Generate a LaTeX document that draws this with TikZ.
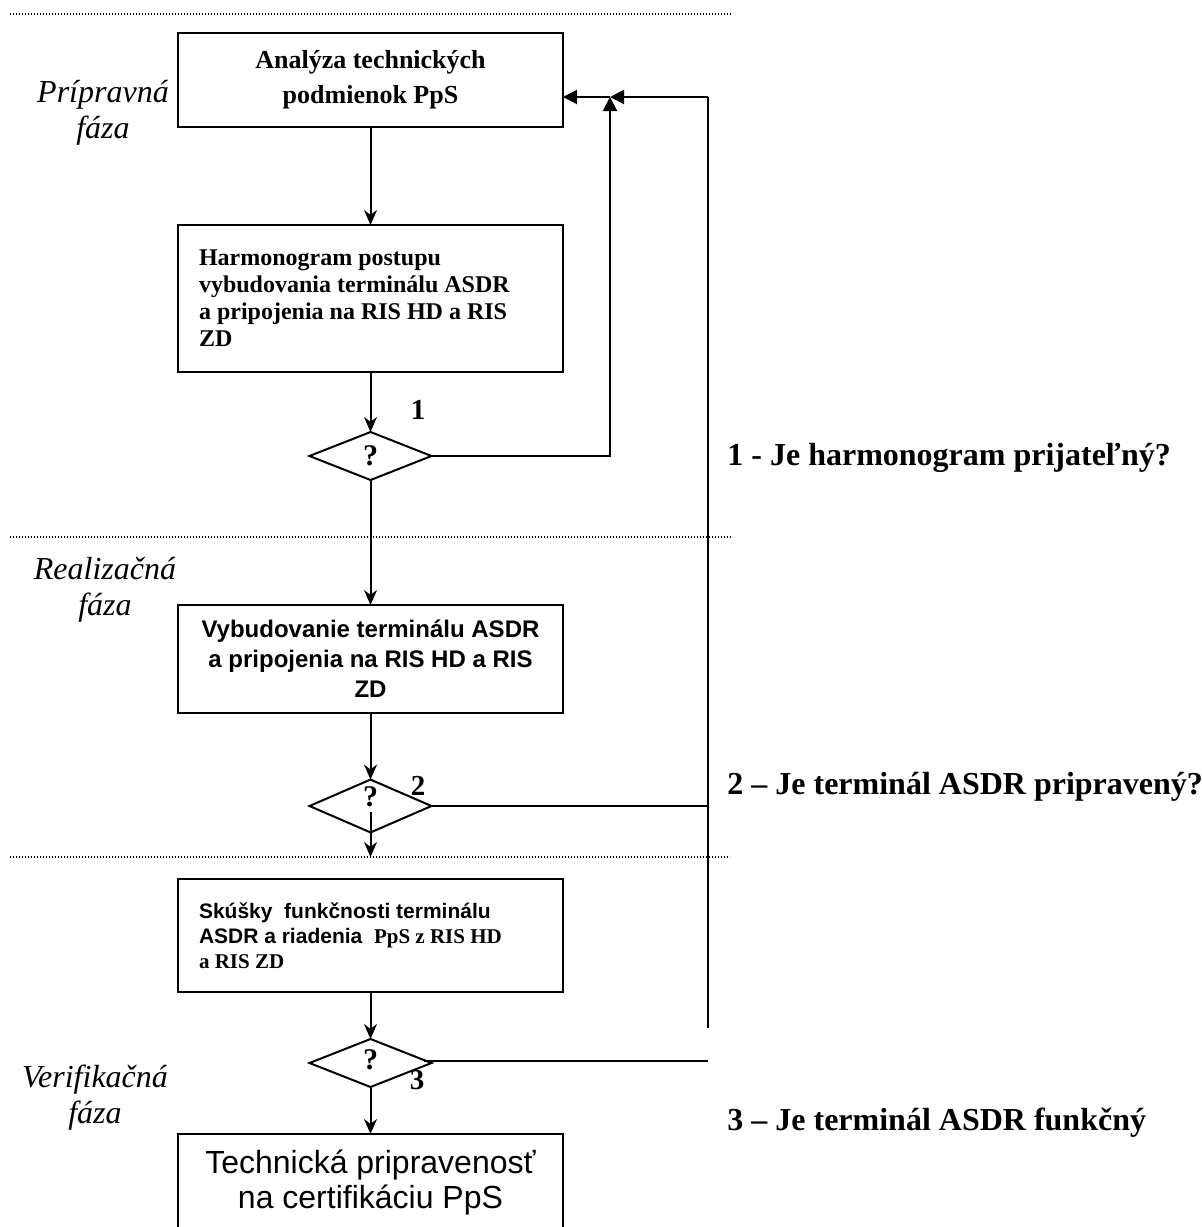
\documentclass[tikz,border=0pt]{standalone}
\usepackage{fontspec}
\setmainfont{Liberation Serif}
\setsansfont{Liberation Sans}
\usetikzlibrary{arrows.meta,shapes.geometric}

\begin{document}
\begin{tikzpicture}[x=0.5pt, y=-0.5pt,
    box/.style={draw, line width=1pt, minimum width=192.5pt, anchor=north west, inner sep=0pt, outer sep=0pt},
    quest/.style={draw, diamond, line width=1pt, minimum width=61pt, minimum height=24pt, inner sep=0pt, outer sep=0pt, font=\fontsize{15}{15}\selectfont\bfseries},
    flow/.style={line width=1pt, -{Stealth[length=7.5pt, width=6.5pt]}},
    fb/.style={line width=1pt, -{Triangle[length=7pt, width=7pt]}},
    link/.style={line width=1pt},
    sep/.style={line width=0.6pt, dash pattern=on 0.6pt off 0.9pt},
    phase/.style={align=center, inner sep=0pt, font=\fontsize{16}{18}\selectfont\itshape},
    num/.style={inner sep=0pt, font=\fontsize{14.5}{14.5}\selectfont\bfseries},
    note/.style={anchor=west, inner sep=0pt, font=\fontsize{16}{16}\selectfont\bfseries}]

      \clip (0,0) rectangle (1202,1227);

      \draw[sep] (10,14) -- (732,14);
      \draw[sep] (10,537) -- (732,537);
      \draw[sep] (10,857) -- (730,857);

      \node[box, minimum height=47pt, align=center, font=\fontsize{13}{17.5}\selectfont\bfseries] (analyza) at (178,33) {Analýza technických\\podmienok PpS};
      \node[box, minimum height=73.5pt, text width=171.5pt, inner xsep=10.5pt, align=flush left, font=\fontsize{12}{13.5}\selectfont\bfseries] (harmonogram) at (178,225) {Harmonogram postupu\\vybudovania terminálu ASDR\\a pripojenia na RIS HD a RIS\\ZD\par\vspace{5pt}};
      \node[box, minimum height=54pt, align=center, font=\fontsize{12}{15}\selectfont\sffamily\bfseries] (vybudovanie) at (178,605) {Vybudovanie terminálu ASDR\\a pripojenia na RIS HD a RIS\\ZD};
      \node[box, minimum height=56.5pt, text width=171.5pt, inner xsep=10.5pt, align=flush left, font=\fontsize{10.5}{12.5}\selectfont\bfseries] (skusky) at (178,879) {\sffamily Skúšky\ \ funkčnosti terminálu\\\sffamily ASDR a riadenia\ \ \rmfamily PpS z RIS HD\\a RIS ZD};
      \node[box, minimum height=49pt, align=center, font=\fontsize{16}{17.5}\selectfont\sffamily] (pripravenost) at (178,1134) {Technická pripravenosť\\na certifikáciu PpS};

      \node[quest] (d1) at (370.5,456) {?};
      \node[quest, text depth=9pt] (d2) at (370.5,806) {?};
      \node[quest, text depth=3pt] (d3) at (370.5,1063) {?};

      \node[num] (lab1) at (418,410) {1};
      \node[num] (lab2) at (418,786) {2};
      \node[num] (lab3) at (417,1080) {3};

      \node[phase] (pripravna) at (103,113) {Prípravná\\fáza};
      \node[phase] (realizacna) at (105,590) {Realizačná\\fáza};
      \node[phase] (verifikacna) at (95,1098) {Verifikačná\\fáza};

      \node[note] (note1) at (727,458) {1 - Je harmonogram prijateľný?};
      \node[note] (note2) at (727,787) {2 – Je terminál ASDR pripravený?};
      \node[note] (note3) at (727,1123) {3 – Je terminál ASDR funkčný};

      \coordinate (join) at (610,97);
      \coordinate (rtop) at (708,97);
      \coordinate (rbot) at (708,1028);
      \coordinate (d2in) at (370.5,812);
      \coordinate (gap2) at (370.5,857);
      \coordinate (d3out) at ([shift={(-8,-2)}]d3.east);

      \draw[flow] (analyza.south) -- (harmonogram.north);
      \draw[flow] (harmonogram.south) -- (d1.north);
      \draw[flow] (d1.south) -- (vybudovanie.north);
      \draw[flow] (vybudovanie.south) -- (d2.north);
      \draw[flow] (d2in) -- (gap2);
      \draw[flow] (skusky.south) -- (d3.north);
      \draw[flow] (d3.south) -- (pripravenost.north);

      \draw[fb] (d1.east) -| (join);
      \draw[fb] (rtop) -- (join);
      \draw[fb] (join) -- (join -| analyza.east);
      \draw[link] (rtop) -- (rbot);
      \draw[link] (d2.east) -- (d2.east -| rtop);
      \draw[link] (d3out) -- (d3out -| rtop);
    \end{tikzpicture}
\end{document}
